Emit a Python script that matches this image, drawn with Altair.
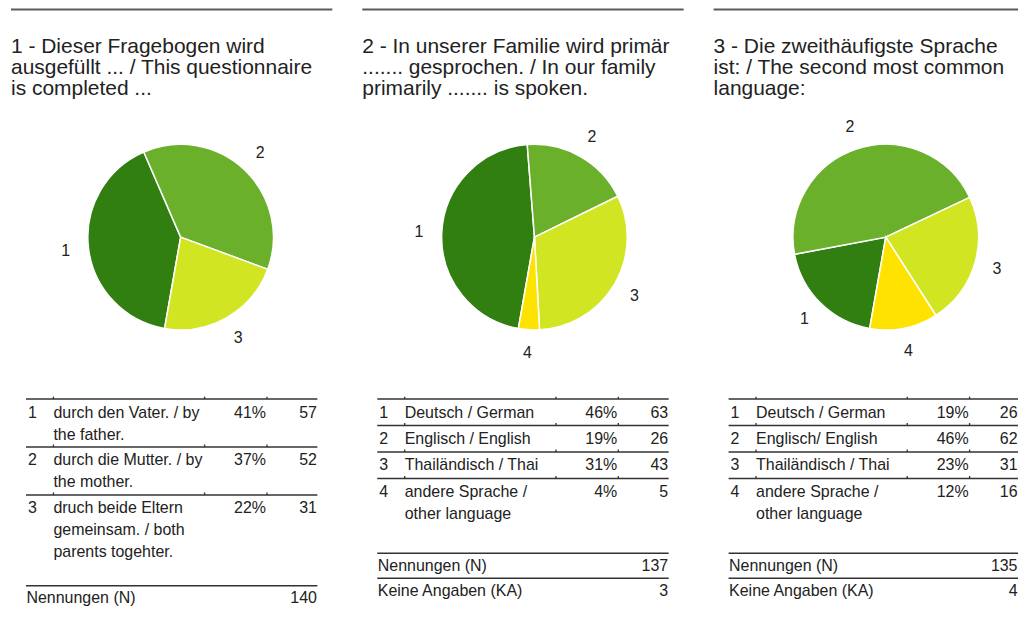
import math
import altair as alt
import pandas as pd

# ---------------- data ----------------
titles = [
    ["1 - Dieser Fragebogen wird", "ausgefüllt ... / This questionnaire", "is completed ..."],
    ["2 - In unserer Familie wird primär", "....... gesprochen. / In our family", "primarily ....... is spoken."],
    ["3 - Die zweithäufigste Sprache", "ist: / The second most common", "language:"],
]
codes = [["1", "2", "3"], ["1", "2", "3", "4"], ["1", "2", "3", "4"]]
answers = [
    ["durch den Vater. / by\nthe father.",
     "durch die Mutter. / by\nthe mother.",
     "druch beide Eltern\ngemeinsam. / both\nparents togehter."],
    ["Deutsch / German", "Englisch / English", "Thailändisch / Thai", "andere Sprache /\nother language"],
    ["Deutsch / German", "Englisch/ English", "Thailändisch / Thai", "andere Sprache /\nother language"],
]
percents = [[41, 37, 22], [46, 19, 31, 4], [19, 46, 23, 12]]
counts = [[57, 52, 31], [63, 26, 43, 5], [26, 62, 31, 16]]
n_total = [140, 137, 135]
n_missing = [None, 3, 4]

COLORS = ["#317f10", "#6ab02b", "#d2e522", "#ffe300"]
TEXT = "#222222"

# ---------------- layout ----------------
H = 601
PANEL_W = [322, 322, 305]
SPACING = 30
TITLE_Y0, TITLE_LH, TITLE_FS = 38.5, 21, 21
PIE_CX = [170, 172.5, 172.5]
PIE_CY = 229
PIE_R = 93
LABEL_R = 116
START = 190 * math.pi / 180
TABLE_TOP = 391.3
LINE_H = [22, 22.5, 22.5]
ROW_PAD = 4
FIRST_OFF = 13.5
END_GAP = [21, 26, 26]
TABLE_FS = 16
COL_NUM, COL_TXT, COL_PCT = 17, 42.5, 255.5
COL_CNT = [306.5, 306.5, 304.5]
RULE_X0 = 15
RULE_X1 = [307, 307, 305]
TICK_X = [42.5, 194, 256.5]


def panel(i):
    W = PANEL_W[i]
    ys = alt.Scale(domain=[0, H], reverse=True, nice=False, zero=False)
    xs = alt.Scale(domain=[0, W], nice=False, zero=False)

    def Y(f="y"):
        return alt.Y(f"{f}:Q", scale=ys, axis=None)

    top_rule = alt.Chart(pd.DataFrame({"y": [1]})).mark_rule(
        color="#5a5a5a", strokeWidth=2
    ).encode(y=Y(), x=alt.value(0), x2=alt.value(W))

    tdf = pd.DataFrame({"text": titles[i],
                        "y": [TITLE_Y0 + k * TITLE_LH for k in range(len(titles[i]))]})
    title = alt.Chart(tdf).mark_text(
        align="left", baseline="middle", fontSize=TITLE_FS, color=TEXT
    ).encode(y=Y(), x=alt.value(0), text="text:N")

    pdf = pd.DataFrame({"cat": codes[i], "n": counts[i], "k": list(range(len(codes[i])))})
    base = alt.Chart(pdf).encode(
        theta=alt.Theta("n:Q", stack=True,
                        scale=alt.Scale(range=[START, START + 2 * math.pi])),
        order=alt.Order("k:Q"),
    )
    arcs = base.mark_arc(outerRadius=PIE_R, stroke="white", strokeWidth=1.5).encode(
        color=alt.Color("cat:N", scale=alt.Scale(domain=codes[i],
                                                 range=COLORS[:len(codes[i])]),
                        legend=None),
        x=alt.value(PIE_CX[i]), y=alt.value(PIE_CY),
    )
    labels = base.mark_text(radius=LABEL_R, fontSize=16, color=TEXT).encode(
        text="cat:N", x=alt.value(PIE_CX[i]), y=alt.value(PIE_CY),
    )

    # table layout computed from the number of text lines
    lh = LINE_H[i]
    line_rows, head_rows, sep_y = [], [], []
    y = TABLE_TOP
    for r, ans in enumerate(answers[i]):
        parts = ans.split("\n")
        sep_y.append(y)
        head_rows.append({"num": codes[i][r], "pct": f"{percents[i][r]}%",
                          "cnt": str(counts[i][r]), "y": y + FIRST_OFF})
        for k, p in enumerate(parts):
            line_rows.append({"text": p, "y": y + FIRST_OFF + k * lh})
        y += len(parts) * lh + ROW_PAD
    bottom = y + END_GAP[i]
    foot = [{"label": "Nennungen (N)", "val": str(n_total[i]), "y": bottom + 12.5}]
    foot_rules = [bottom]
    if n_missing[i] is not None:
        foot_rules.append(bottom + 25)
        foot.append({"label": "Keine Angaben (KA)", "val": str(n_missing[i]),
                     "y": bottom + 25 + 12.5})

    rules = alt.Chart(pd.DataFrame({"y": sep_y + foot_rules})).mark_rule(
        color="#333333", strokeWidth=1.5
    ).encode(y=Y(), x=alt.value(RULE_X0), x2=alt.value(RULE_X1[i]))

    tick_df = pd.DataFrame([{"x": tx, "y": sy - 2.5, "y2": sy} for sy in sep_y for tx in TICK_X])
    ticks = alt.Chart(tick_df).mark_rule(color="#333333", strokeWidth=1.3).encode(
        x=alt.X("x:Q", scale=xs, axis=None), y=Y(), y2="y2:Q")

    hdf = pd.DataFrame(head_rows)
    ldf = pd.DataFrame(line_rows)
    fdf = pd.DataFrame(foot)
    tstyle = dict(baseline="middle", fontSize=TABLE_FS, color=TEXT)
    num = alt.Chart(hdf).mark_text(align="left", **tstyle).encode(
        y=Y(), x=alt.value(COL_NUM), text="num:N")
    pct = alt.Chart(hdf).mark_text(align="right", **tstyle).encode(
        y=Y(), x=alt.value(COL_PCT), text="pct:N")
    cnt = alt.Chart(hdf).mark_text(align="right", **tstyle).encode(
        y=Y(), x=alt.value(COL_CNT[i]), text="cnt:N")
    desc = alt.Chart(ldf).mark_text(align="left", **tstyle).encode(
        y=Y(), x=alt.value(COL_TXT), text="text:N")
    flab = alt.Chart(fdf).mark_text(align="left", **tstyle).encode(
        y=Y(), x=alt.value(15.5), text="label:N")
    fval = alt.Chart(fdf).mark_text(align="right", **tstyle).encode(
        y=Y(), x=alt.value(COL_CNT[i]), text="val:N")

    return alt.layer(top_rule, title, arcs, labels, rules, ticks,
                     num, desc, pct, cnt, flab, fval).resolve_scale(
        color="independent").properties(width=W, height=H)


chart = alt.hconcat(*[panel(i) for i in range(3)], spacing=SPACING, bounds="flush").properties(
    padding={"left": 2, "top": 0, "right": 0, "bottom": 0}
).configure(font="Liberation Sans").configure_view(stroke=None)

chart.save("out.html", embed_options={"renderer": "svg", "actions": False})
